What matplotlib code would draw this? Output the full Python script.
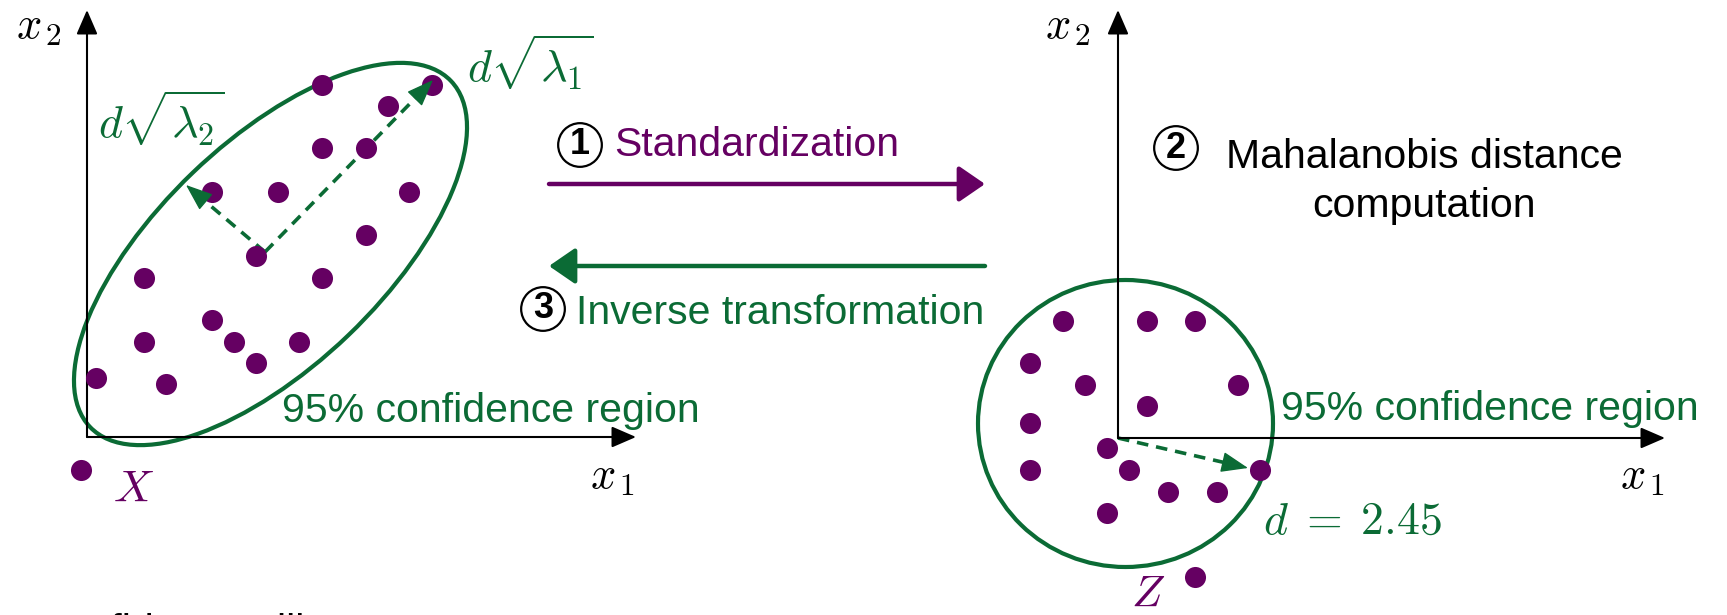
import matplotlib.pyplot as plt
from matplotlib.patches import Ellipse

plt.rcParams['font.family'] = ['Liberation Sans', 'DejaVu Sans']
plt.rcParams['mathtext.fontset'] = 'cm'

PURPLE = '#650062'
GREEN = '#0b6b35'

# original sample X (left panel, units from the axis origin)
x_vals = [235, 345, 301, 235, 279, 125, 191, 322, 279, 169,
          235, 57, 57, 125, 147, 212, 169, 9, 79, -6]
y_vals = [352, 352, 331, 289, 289, 245, 245, 245, 202, 181,
          159, 159, 95, 117, 95, 95, 74, 59, 53, -33]

# confidence ellipse and principal axes of X
ell_center = (183.5, 183)
ell_width, ell_height, ell_angle = 500, 225, 43.8
mean_x = (178, 185)
tip_l1 = (346, 357)
tip_l2 = (99, 252)

# standardized sample Z (right panel)
z1_vals = [-55, 29, 77, -88, -33, 120, 29, -88, -88, -11,
           11, 50, 99, 142, -11, 77]
z2_vals = [117, 117, 117, 75, 53, 53, 32, 15, -32, -10,
           -32, -54, -54, -32, -75, -139]
circ_center = (7.5, 14.5)
circ_width, circ_height = 295, 287
tip_d = (130, -30)
d_value = 2.45

W, H = 1727, 615
fig = plt.figure(figsize=(W / 100, H / 100), dpi=100)


def panel(ox, oy):
    # full-figure axes whose (0, 0) sits at the given spot (px from top-left)
    ax = fig.add_axes([0, 0, 1, 1])
    ax.set_xlim(-ox, W - ox)
    ax.set_ylim(-(H - oy), oy)
    ax.axis('off')
    ax.patch.set_alpha(0)
    return ax


def arrow(ax, start, end, color, lw, hl, hw):
    ax.annotate('', xy=end, xytext=start,
                arrowprops=dict(arrowstyle=f'-|>,head_length={hl},head_width={hw}',
                                color=color, lw=lw, shrinkA=0, shrinkB=0,
                                mutation_scale=10))


def dashed_arrow(ax, start, end):
    dx, dy = end[0] - start[0], end[1] - start[1]
    n = (dx ** 2 + dy ** 2) ** 0.5
    base = (end[0] - dx / n * 14, end[1] - dy / n * 14)
    ax.plot([start[0], base[0]], [start[1], base[1]], color=GREEN, lw=2.6,
            dashes=(3.2, 2.2), solid_capstyle='butt', dash_capstyle='butt')
    arrow(ax, base, end, GREEN, 1.0, 1.7, 0.65)


def axes_cross(ax, xlen, ylen):
    arrow(ax, (0, 0), (xlen, 0), 'black', 1.5, 1.5, 0.65)
    arrow(ax, (0, 0), (0, ylen), 'black', 1.5, 1.5, 0.65)


# ---- left panel: X with its confidence ellipse
ax_l = panel(87, 437)
axes_cross(ax_l, 549, 427)
ax_l.add_patch(Ellipse(ell_center, ell_width, ell_height, angle=ell_angle,
                       fill=False, ec=GREEN, lw=3))
ax_l.scatter(x_vals, y_vals, s=230, color=PURPLE, lw=0, zorder=3)
dashed_arrow(ax_l, mean_x, tip_l1)
dashed_arrow(ax_l, mean_x, tip_l2)
ax_l.text(-48, 410, r'$x_{\,2}$', fontsize=32, ha='center', va='center')
ax_l.text(526, -41, r'$x_{\,1}$', fontsize=32, ha='center', va='center')
ax_l.text(47, -53, r'$X$', fontsize=33, color=PURPLE, ha='center', va='center')
ax_l.text(11, 299, r'$d\sqrt{\lambda_2}$', fontsize=33, color=GREEN,
          ha='left', va='baseline')
ax_l.text(380, 355, r'$d\sqrt{\lambda_1}$', fontsize=33, color=GREEN,
          ha='left', va='baseline')
ax_l.text(195, 15, '95% confidence region', fontsize=29.5, color=GREEN,
          ha='left', va='baseline')

# ---- right panel: standardized Z and the unit-distance circle
ax_r = panel(1118, 438)
axes_cross(ax_r, 547, 428)
ax_r.add_patch(Ellipse(circ_center, circ_width, circ_height,
                       fill=False, ec=GREEN, lw=3))
ax_r.scatter(z1_vals, z2_vals, s=230, color=PURPLE, lw=0, zorder=3)
dashed_arrow(ax_r, (0, 0), tip_d)
ax_r.text(-50, 411, r'$x_{\,2}$', fontsize=32, ha='center', va='center')
ax_r.text(525, -39, r'$x_{\,1}$', fontsize=32, ha='center', va='center')
ax_r.text(30, -157, r'$Z$', fontsize=32, color=PURPLE, ha='center', va='center')
ax_r.text(145, -96, rf'$d\;=\;{d_value}$', fontsize=33, color=GREEN,
          ha='left', va='baseline')
ax_r.text(163, 18, '95% confidence region', fontsize=29.5, color=GREEN,
          ha='left', va='baseline')

# ---- middle: transformation steps (pixel coordinates, y downwards)
ax_m = fig.add_axes([0, 0, 1, 1])
ax_m.set_xlim(0, W)
ax_m.set_ylim(H, 0)
ax_m.axis('off')
ax_m.patch.set_alpha(0)

arrow(ax_m, (549, 184), (985, 184), PURPLE, 3.2, 1.6, 1.1)
arrow(ax_m, (985, 266), (549, 266), GREEN, 3.2, 1.6, 1.1)


def step(x, y, num):
    ax_m.text(x, y, num, fontsize=26, fontweight='bold', ha='center',
              va='center',
              bbox=dict(boxstyle='circle,pad=0.12', fc='white', ec='black', lw=1.6))


step(580, 145, '1')
ax_m.text(614, 156, 'Standardization', fontsize=29.5, color=PURPLE,
          ha='left', va='baseline')
step(543, 309, '3')
ax_m.text(576, 324, 'Inverse transformation', fontsize=29.5, color=GREEN,
          ha='left', va='baseline')
step(1176, 148, '2')
ax_m.text(1424, 168, 'Mahalanobis distance', fontsize=29.5, ha='center',
          va='baseline')
ax_m.text(1424, 217, 'computation', fontsize=29.5, ha='center', va='baseline')

# caption line running off the bottom edge
ax_m.text(35, 643, 'Confidence ellipse', fontsize=29.5, ha='left', va='baseline')

fig.savefig('out.png', dpi=100)
